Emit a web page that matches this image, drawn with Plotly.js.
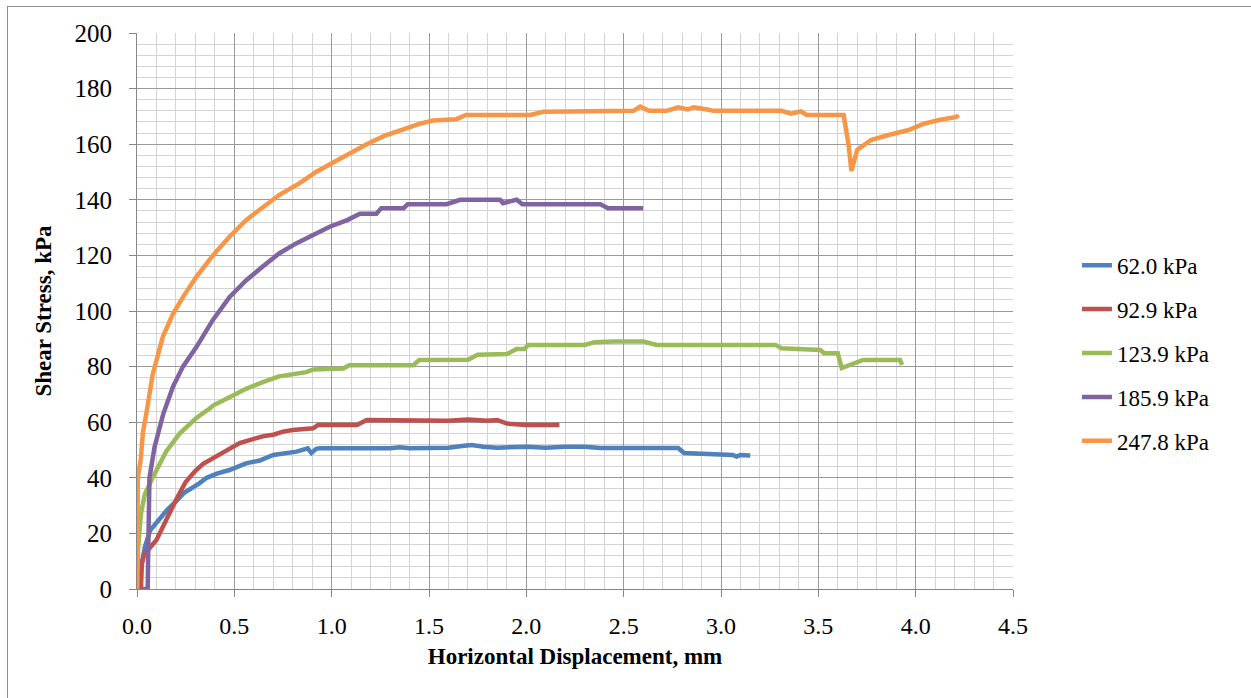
<!DOCTYPE html>
<html>
<head>
<meta charset="utf-8">
<script src="https://cdn.plot.ly/plotly-3.0.1.min.js"></script>
<style>
  html, body { margin: 0; padding: 0; background: #ffffff; }
  #frame { position: absolute; left: 7px; top: 6px; width: 1260px; height: 710px;
           border-left: 1.5px solid #8c8c8c; border-top: 1.5px solid #8c8c8c; }
  #chart { position: absolute; left: 0; top: 0; width: 1251px; height: 698px; }
</style>
</head>
<body>
<div id="frame"></div>
<div id="chart"></div>
<script>
// Series names (normal stress)
const seriesNames = ["62.0 kPa", "92.9 kPa", "123.9 kPa", "185.9 kPa", "247.8 kPa"];
const seriesColors = ["#4F81BD", "#C0504D", "#9BBB59", "#8064A2", "#F79646"];

// 62.0 kPa
const x62 = [0, 0.02, 0.04, 0.067, 0.1, 0.154, 0.2, 0.24, 0.32, 0.358, 0.41, 0.475, 0.56, 0.63, 0.70, 0.82, 0.877, 0.896, 0.92, 0.94, 1.3, 1.35, 1.4, 1.6, 1.68, 1.72, 1.78, 1.85, 2.0, 2.1, 2.2, 2.3, 2.38, 2.78, 2.81, 3.0, 3.06, 3.08, 3.1, 3.15];
const y62 = [0, 8, 15, 21, 24, 28.4, 31.5, 34.5, 38, 40, 41.5, 42.8, 45.2, 46.2, 48.2, 49.4, 50.6, 48.9, 50.4, 50.6, 50.6, 51, 50.6, 50.8, 51.5, 51.8, 51.2, 50.8, 51.2, 50.8, 51.2, 51.2, 50.7, 50.7, 48.9, 48.6, 48.2, 47.6, 48.2, 48];

// 92.9 kPa
const x93 = [0.02, 0.025, 0.035, 0.05, 0.1, 0.15, 0.2, 0.25, 0.3, 0.34, 0.4, 0.45, 0.527, 0.6, 0.65, 0.7, 0.75, 0.8, 0.905, 0.93, 1.13, 1.18, 1.5, 1.6, 1.7, 1.8, 1.85, 1.9, 2.0, 2.17];
const y93 = [0, 9, 12, 13.5, 17.6, 25, 32, 38.5, 42.5, 45, 47.5, 49.5, 52.5, 54, 55, 55.5, 56.6, 57.2, 57.8, 59, 59, 60.8, 60.8, 60.5, 61, 60.5, 60.8, 59.5, 59, 59];

// 123.9 kPa
const x124 = [0, 0.005, 0.02, 0.04, 0.08, 0.135, 0.15, 0.22, 0.26, 0.305, 0.375, 0.39, 0.475, 0.56, 0.65, 0.73, 0.87, 0.905, 1.06, 1.09, 1.42, 1.45, 1.7, 1.75, 1.9, 1.95, 1.99, 2.01, 2.3, 2.35, 2.45, 2.6, 2.67, 3.28, 3.31, 3.51, 3.53, 3.60, 3.62, 3.68, 3.73, 3.92, 3.93];
const y124 = [0, 14, 27, 34, 40, 48, 49.5, 56, 58.5, 61.5, 65, 66, 69, 72, 74.5, 76.5, 78, 79, 79.3, 80.5, 80.5, 82.4, 82.5, 84.3, 84.5, 86.3, 86.3, 87.8, 87.8, 88.8, 89, 89, 87.8, 87.8, 86.6, 86, 84.8, 84.8, 79.5, 81.3, 82.4, 82.4, 80.6];

// 185.9 kPa
const x186 = [0.02, 0.055, 0.058, 0.062, 0.064, 0.09, 0.1, 0.135, 0.185, 0.236, 0.305, 0.39, 0.475, 0.56, 0.646, 0.73, 0.82, 0.91, 0.99, 1.08, 1.145, 1.23, 1.255, 1.37, 1.39, 1.59, 1.66, 1.865, 1.88, 1.92, 1.95, 1.98, 2.38, 2.42, 2.6];
const y186 = [0, 0, 15, 30, 40, 51, 54, 63, 72.8, 80, 87, 96.8, 105, 111, 116, 120.7, 124.4, 127.3, 130.3, 132.7, 135, 135, 137, 137, 138.4, 138.4, 140, 140, 138.8, 139.5, 140, 138.4, 138.4, 137, 137];

// 247.8 kPa
const x248 = [0, 0, 0.004, 0.02, 0.03, 0.05, 0.08, 0.133, 0.185, 0.236, 0.305, 0.39, 0.475, 0.56, 0.646, 0.73, 0.835, 0.92, 1.01, 1.1, 1.18, 1.27, 1.35, 1.45, 1.52, 1.64, 1.69, 2.02, 2.09, 2.55, 2.585, 2.63, 2.72, 2.78, 2.83, 2.86, 2.93, 2.96, 3.31, 3.36, 3.41, 3.44, 3.63, 3.655, 3.67, 3.70, 3.72, 3.77, 3.86, 3.96, 4.04, 4.12, 4.21, 4.22];
const y248 = [0, 24, 40, 47, 56, 64, 77, 90.8, 99, 105, 112.3, 120, 126.7, 132.7, 137.5, 141.7, 146, 150, 153.5, 157, 160, 163, 165, 167.3, 168.5, 169, 170.5, 170.5, 171.7, 172, 173.5, 172, 172, 173.3, 172.5, 173.3, 172.5, 172, 172, 171, 171.8, 170.5, 170.5, 160, 150.4, 158, 159, 161.5, 163.3, 165, 167.3, 168.7, 169.8, 170.5];

const xs = [x62, x93, x124, x186, x248];
const ys = [y62, y93, y124, y186, y248];

// Axis ticks
const xTickVals = [0, 0.5, 1, 1.5, 2, 2.5, 3, 3.5, 4, 4.5];
const xTickText = ["0.0", "0.5", "1.0", "1.5", "2.0", "2.5", "3.0", "3.5", "4.0", "4.5"];
const yTickVals = [0, 20, 40, 60, 80, 100, 120, 140, 160, 180, 200];

const traces = seriesNames.map((name, i) => ({
  type: "scatter",
  mode: "lines",
  name: name,
  legendgroup: "g" + i,
  x: xs[i],
  y: ys[i],
  line: { color: seriesColors[i], width: 4.5 },
  hoverinfo: "skip"
}));

const serif = "'Liberation Serif', 'Times New Roman', serif";

const layout = {
  width: 1251,
  height: 698,
  margin: { l: 137, r: 238, t: 33, b: 109 },
  paper_bgcolor: "rgba(0,0,0,0)",
  plot_bgcolor: "#ffffff",
  showlegend: true,
  font: { family: serif, color: "#000000" },
  xaxis: {
    range: [0, 4.5],
    tickmode: "array",
    tickvals: xTickVals,
    ticktext: xTickText,
    ticks: "outside",
    ticklen: 7,
    tickcolor: "#868686",
    tickwidth: 1,
    ticklabelstandoff: 8,
    tickfont: { family: serif, size: 24, color: "#000" },
    showgrid: true,
    gridcolor: "#9a9a9a",
    gridwidth: 1,
    minor: { dtick: 0.1, showgrid: true, gridcolor: "#d3d3d3", gridwidth: 1 },
    showline: true,
    linecolor: "#868686",
    linewidth: 1,
    zeroline: false,
    mirror: false,
    title: { text: "<b>Horizontal Displacement, mm</b>", font: { family: serif, size: 23, color: "#000" }, standoff: 10 }
  },
  yaxis: {
    range: [0, 200],
    tickmode: "array",
    tickvals: yTickVals,
    ticks: "outside",
    ticklen: 7,
    tickcolor: "#868686",
    tickwidth: 1,
    ticklabelstandoff: 12,
    tickfont: { family: serif, size: 25, color: "#000" },
    showgrid: true,
    gridcolor: "#9a9a9a",
    gridwidth: 1,
    minor: { dtick: 4, showgrid: true, gridcolor: "#d3d3d3", gridwidth: 1 },
    showline: true,
    linecolor: "#868686",
    linewidth: 1,
    zeroline: false,
    title: { text: "<b>Shear Stress, kPa</b>", font: { family: serif, size: 23, color: "#000" }, standoff: 16 }
  },
  legend: {
    x: 1.073,
    xanchor: "left",
    y: 0.424,
    yanchor: "middle",
    traceorder: "grouped",
    tracegroupgap: 11,
    font: { family: serif, size: 23, color: "#000" },
    bgcolor: "rgba(0,0,0,0)",
    itemwidth: 30
  }
};

Plotly.newPlot("chart", traces, layout, { staticPlot: true, displayModeBar: false });
</script>
</body>
</html>
